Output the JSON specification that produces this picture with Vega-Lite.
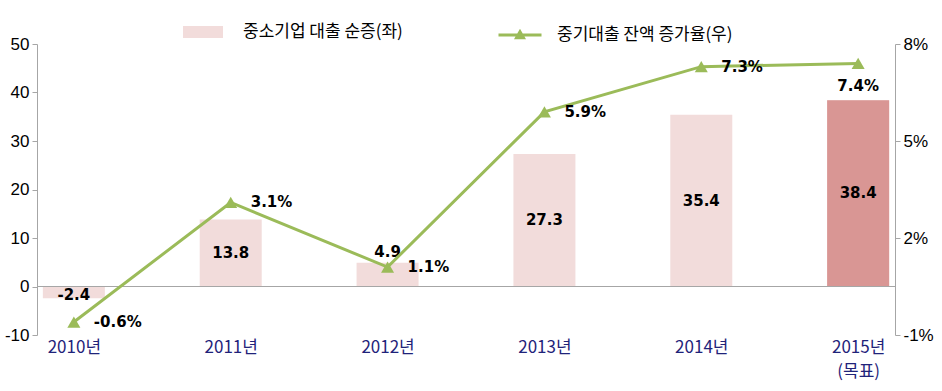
{
  "$schema": "https://vega.github.io/schema/vega-lite/v6.json",
  "autosize": {"type": "none"},
  "width": 858,
  "height": 291,
  "padding": {"left": 37, "top": 44, "right": 47, "bottom": 56},
  "background": "white",
  "config": {
    "view": {"stroke": null},
    "axis": {"grid": false, "domainColor": "#a6a6a6", "tickColor": "#a6a6a6", "labelColor": "#000000", "labelFont": "Liberation Sans", "labelFontSize": 17}
  },
  "data": {
    "values": [
      {"year": "2010년", "loan": -2.4, "rate": -0.6},
      {"year": "2011년", "loan": 13.8, "rate": 3.1},
      {"year": "2012년", "loan": 4.9, "rate": 1.1},
      {"year": "2013년", "loan": 27.3, "rate": 5.9},
      {"year": "2014년", "loan": 35.4, "rate": 7.3},
      {"year": "2015년", "loan": 38.4, "rate": 7.4}
    ]
  },
  "encoding": {
    "x": {
      "field": "year", "type": "nominal", "sort": null,
      "scale": {"type": "point", "padding": 0.235},
      "axis": {
        "title": null, "domain": false, "ticks": false, "labelAngle": 0,
        "labelFont": "Noto Sans CJK KR", "labelFontSize": 17, "labelColor": "#1f237a",
        "labelPadding": 4, "labelBaseline": "top", "labelLineHeight": 24,
        "labelExpr": "datum.value == '2015년' ? ['2015년', '(목표)'] : datum.value"
      }
    }
  },
  "layer": [
    {
      "layer": [
        {
          "mark": {"type": "bar", "width": 62},
          "encoding": {
            "y": {
              "field": "loan", "type": "quantitative",
              "scale": {"domain": [-10, 50], "nice": false, "zero": false},
              "axis": {"title": null, "orient": "left", "values": [-10, 0, 10, 20, 30, 40, 50], "tickSize": 5, "labelPadding": 3, "labelExpr": "'' + datum.value"}
            },
            "fill": {
              "datum": "중소기업 대출 순증(좌)",
              "scale": {"range": ["#f2dcdb"]},
              "legend": {
                "title": null, "orient": "none", "legendX": 146, "legendY": -32,
                "symbolType": "M-1,-0.3H1V0.3H-1Z", "symbolSize": 1600, "symbolStrokeWidth": 0,
                "labelFont": "Noto Sans CJK KR", "labelFontSize": 17, "labelColor": "#000000", "labelOffset": 20, "labelLimit": 400
              }
            }
          }
        },
        {
          "transform": [{"filter": "datum.year == '2015년'"}],
          "mark": {"type": "bar", "width": 62, "color": "#d99694"},
          "encoding": {"y": {"field": "loan", "type": "quantitative"}}
        },
        {
          "mark": {"type": "rule", "color": "#a6a6a6", "strokeWidth": 1},
          "encoding": {"y": {"datum": 0}, "x": null}
        },
        {
          "transform": [
            {"calculate": "datum.loan > 0 && datum.loan < 8 ? datum.loan + 2.3 : (datum.loan < 0 ? datum.loan / 2 - 0.6 : datum.loan / 2)", "as": "labelY"},
            {"calculate": "replace(format(datum.loan, '.1f'), '\u2212', '-')", "as": "llabel"}
          ],
          "mark": {"type": "text", "font": "DejaVu Sans", "fontWeight": "bold", "fontSize": 15, "color": "#000000", "baseline": "middle"},
          "encoding": {
            "y": {"field": "labelY", "type": "quantitative"},
            "text": {"field": "llabel"}
          }
        }
      ]
    },
    {
      "layer": [
        {
          "mark": {"type": "line", "strokeWidth": 3},
          "encoding": {
            "y": {
              "field": "rate", "type": "quantitative",
              "scale": {"domain": [-1, 8], "nice": false, "zero": false},
              "axis": {"title": null, "orient": "right", "values": [-1, 2, 5, 8], "tickSize": 5, "labelPadding": 3, "labelExpr": "datum.value + '%'"}
            },
            "stroke": {
              "datum": "중기대출 잔액 증가율(우)",
              "scale": {"range": ["#9bbb59"]},
              "legend": {
                "title": null, "orient": "none", "legendX": 460, "legendY": -32,
                "symbolType": "M-1,0H1M-0.16,0.13L0,-0.15L0.16,0.13Z", "symbolSize": 1849, "symbolStrokeWidth": 3,
                "symbolFillColor": "#9bbb59",
                "labelFont": "Noto Sans CJK KR", "labelFontSize": 17, "labelColor": "#000000", "labelOffset": 14, "labelLimit": 400
              }
            }
          }
        },
        {
          "mark": {"type": "point", "shape": "triangle-up", "filled": true, "size": 170, "color": "#9bbb59", "opacity": 1},
          "encoding": {"y": {"field": "rate", "type": "quantitative"}}
        },
        {
          "transform": [
            {"filter": "datum.year != '2015년'"},
            {"calculate": "replace(format(datum.rate, '.1f'), '\u2212', '-') + '%'", "as": "rlabel"}
          ],
          "mark": {"type": "text", "font": "DejaVu Sans", "fontWeight": "bold", "fontSize": 15, "color": "#000000", "align": "left", "baseline": "middle", "dx": 20},
          "encoding": {
            "y": {"field": "rate", "type": "quantitative"},
            "text": {"field": "rlabel"}
          }
        },
        {
          "transform": [
            {"filter": "datum.year == '2015년'"},
            {"calculate": "format(datum.rate, '.1f') + '%'", "as": "rlabel"}
          ],
          "mark": {"type": "text", "font": "DejaVu Sans", "fontWeight": "bold", "fontSize": 15, "color": "#000000", "align": "center", "baseline": "middle", "dy": 23},
          "encoding": {
            "y": {"field": "rate", "type": "quantitative"},
            "text": {"field": "rlabel"}
          }
        }
      ]
    }
  ],
  "resolve": {"scale": {"y": "independent"}}
}
